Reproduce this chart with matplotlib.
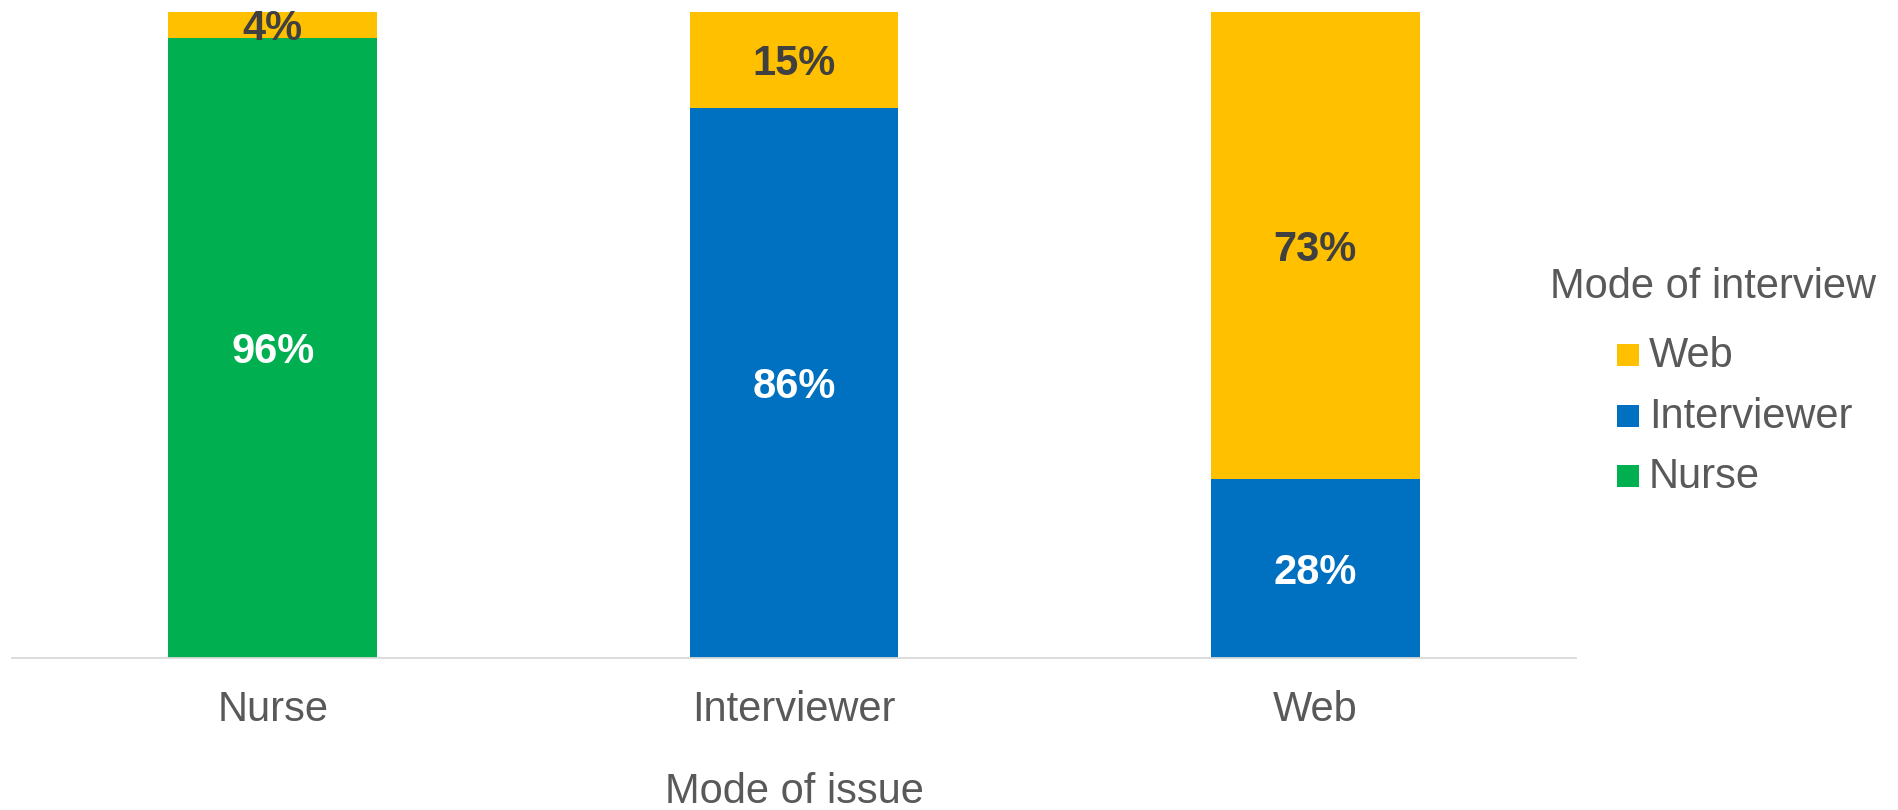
import matplotlib
matplotlib.use("Agg")
import matplotlib.pyplot as plt
from matplotlib.patches import Rectangle
import numpy as np

plt.rcParams['font.family'] = ['Liberation Sans', 'DejaVu Sans']

# mode of issue (x categories) and share by mode of interview (%)
issue_modes = ['Nurse', 'Interviewer', 'Web']
nurse_pct = [96, 0, 0]
interviewer_pct = [0, 86, 28]
web_pct = [4, 15, 73]

series = [('Nurse', nurse_pct, '#00B050', 'white'),
          ('Interviewer', interviewer_pct, '#0070C0', 'white'),
          ('Web', web_pct, '#FFC000', '#404040')]

TXT = '#595959'
W, H = 1899, 810

fig = plt.figure(figsize=(W / 100, H / 100), dpi=100)
ax = fig.add_axes([12 / W, 1 - 658 / H, 1564 / W, 646 / H])

x = np.arange(len(issue_modes))
totals = np.array(nurse_pct) + np.array(interviewer_pct) + np.array(web_pct)

# 100% stacked columns
bottom = np.zeros(len(x))
for name, vals, col, lblcol in series:
    vals = np.array(vals, dtype=float)
    share = vals / totals * 100
    ax.bar(x, share, 0.4, bottom=bottom, color=col, zorder=2)
    for xi, v, s, b in zip(x, vals, share, bottom):
        if v > 0:
            ax.text(xi, b + s / 2, f'{v:.0f}%', ha='center', va='center_baseline',
                    fontsize=30, fontweight='bold', color=lblcol, zorder=3)
    bottom += share

ax.set_xlim(-0.5, 2.5)
ax.set_ylim(0, 100)
ax.set_yticks([])
for s in ['top', 'right', 'left']:
    ax.spines[s].set_visible(False)
ax.spines['bottom'].set_color('#D9D9D9')
ax.spines['bottom'].set_linewidth(1.3)
ax.set_xticks(x, issue_modes)
ax.tick_params(axis='x', length=0, pad=23, labelsize=30, labelcolor=TXT)

fig.text(794 / W, 1 - 803 / H, 'Mode of issue', ha='center', va='baseline',
         fontsize=30, color=TXT)

# legend, top entry first
fig.text(1550 / W, 1 - 298 / H, 'Mode of interview', ha='left', va='baseline',
         fontsize=30, color=TXT)
for i, (name, vals, col, _) in enumerate(series[::-1]):
    cy = 355 + i * 60.5
    fig.patches.append(Rectangle((1617 / W, 1 - (cy + 11) / H), 22 / W, 22 / H,
                                 transform=fig.transFigure, facecolor=col,
                                 edgecolor='none'))
    fig.text(1649 / W, 1 - (cy + 12) / H, name, ha='left', va='baseline',
             fontsize=30, color=TXT)

fig.savefig('out.png', dpi=100, facecolor='white')
